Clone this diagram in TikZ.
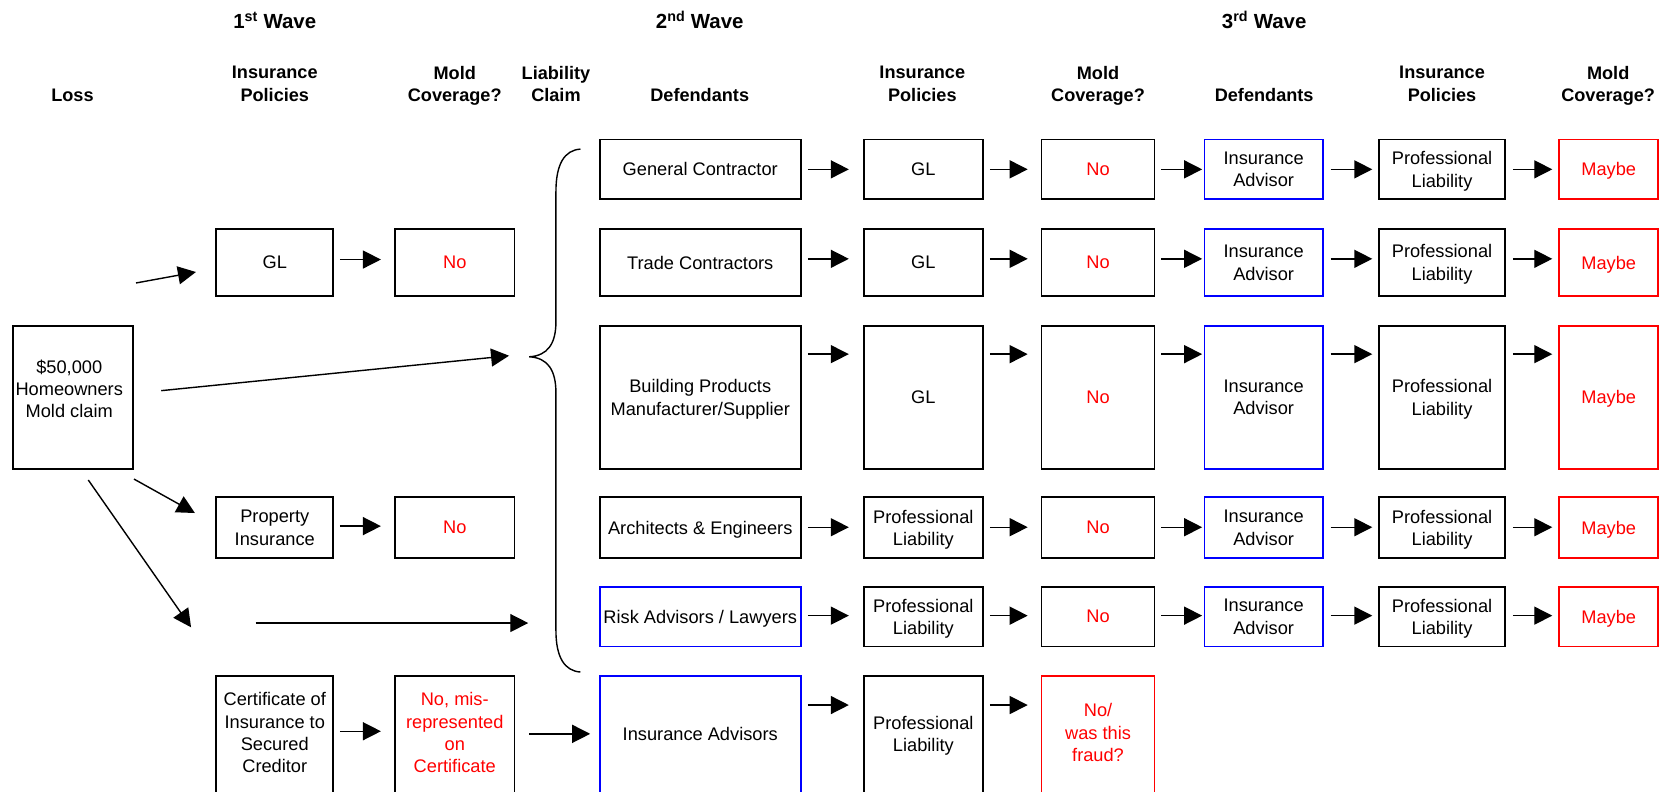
\documentclass[tikz,border=0pt]{standalone}
\usepackage{fontspec}
\setmainfont{Liberation Sans}
\usetikzlibrary{arrows.meta}
\definecolor{myred}{RGB}{255,0,0}
\definecolor{myblue}{RGB}{0,0,255}
\def\pxu{1.065bp}
\begin{document}
\begin{tikzpicture}[x=1.065bp,y=-1.065bp,
  box/.style={draw, line width=1.8bp, align=center, inner sep=0pt, text depth=0pt, font=\fontsize{18.3}{22.5}\selectfont},
  txt/.style={align=center, inner sep=0pt, text depth=0pt, font=\fontsize{18.3}{22.5}\selectfont},
  sz/.style 2 args={minimum width=#1*\pxu, minimum height=#2*\pxu},
  bluebox/.style={draw=myblue},
  redbox/.style={draw=myred},
  redtxt/.style={text=myred},
  arr/.style={line width=1.4bp, -{Triangle[length=18bp,width=18bp]}},
  hdr/.style={font=\bfseries\fontsize{18.2}{22.5}\selectfont, align=center, inner sep=0pt, anchor=north},
  wave/.style={font=\bfseries\fontsize{20.5}{24}\selectfont, inner sep=0pt, anchor=base}]
\useasboundingbox (0,0) rectangle (1569,743);
\clip (0,0) rectangle (1569,743);

% wave titles
\node[wave] (w1) at (258,27) {1\textsuperscript{st} Wave};
\node[wave] (w2) at (657,27) {2\textsuperscript{nd} Wave};
\node[wave] (w3) at (1187,27) {3\textsuperscript{rd} Wave};

% column headers
\node[hdr] (h0) at (68,83) {Loss};
\node[hdr] (h1) at (258,62) {Insurance\\Policies};
\node[hdr] (h2) at (427,62) {Mold\\Coverage?};
\node[hdr] (h3) at (522,62) {Liability\\Claim};
\node[hdr] (h4) at (657,83) {Defendants};
\node[hdr] (h5) at (866,62) {Insurance\\Policies};
\node[hdr] (h6) at (1031,62) {Mold\\Coverage?};
\node[hdr] (h7) at (1187,83) {Defendants};
\node[hdr] (h8) at (1354,62) {Insurance\\Policies};
\node[hdr] (h9) at (1510,62) {Mold\\Coverage?};

% loss
\node[box, sz={113}{134}] (loss) at (68.5,373) {};
\node[txt] (losst) at (65,365) {\$50,000\\Homeowners\\Mold claim};

% first wave
\node[box, sz={110}{63}] (gl1) at (258,246.5) {GL};
\node[box, sz={112}{63}, redtxt] (no1) at (427,246.5) {No};
\node[box, sz={110}{57}] (prop) at (258,495.5) {Property\\Insurance};
\node[box, sz={112}{57}, redtxt] (no2) at (427,495.5) {No};
\node[box, sz={110}{125}] (cert) at (258,697.5) {};
\node[txt] (certt) at (258,688) {Certificate of\\Insurance to\\Secured\\Creditor};
\node[box, sz={112}{125}] (no3) at (427,697.5) {};
\node[txt, redtxt] (no3t) at (427,688) {No, mis-\\represented\\on\\Certificate};

% second wave defendants
\node[box, sz={189}{56}] (d1) at (657.5,159) {General Contractor};
\node[box, sz={189}{63}] (d2) at (657.5,246.5) {Trade Contractors};
\node[box, sz={189}{134}] (d3) at (657.5,373) {Building Products\\Manufacturer/Supplier};
\node[box, sz={189}{57}] (d4) at (657.5,495.5) {Architects \& Engineers};
\node[box, sz={189}{56}, bluebox] (d5) at (657.5,579) {Risk Advisors / Lawyers};
\node[box, sz={189}{125}, bluebox] (d6) at (657.5,697.5) {};
\node[txt] (d6t) at (657.5,689) {Insurance Advisors};

% second wave policies
\node[box, sz={112}{56}] (p1) at (867,159) {GL};
\node[box, sz={112}{63}] (p2) at (867,246.5) {GL};
\node[box, sz={112}{134}] (p3) at (867,373) {GL};
\node[box, sz={112}{57}] (p4) at (867,495.5) {Professional\\Liability};
\node[box, sz={112}{56}] (p5) at (867,579) {Professional\\Liability};
\node[box, sz={112}{125}] (p6) at (867,697.5) {};
\node[txt] (p6t) at (867,689) {Professional\\Liability};

% second wave mold coverage
\node[box, sz={106}{56}, redtxt] (m1) at (1031,159) {No};
\node[box, sz={106}{63}, redtxt] (m2) at (1031,246.5) {No};
\node[box, sz={106}{134}, redtxt] (m3) at (1031,373) {No};
\node[box, sz={106}{57}, redtxt] (m4) at (1031,495.5) {No};
\node[box, sz={106}{56}, redtxt] (m5) at (1031,579) {No};
\node[box, sz={106}{125}, redbox] (m6) at (1031,697.5) {};
\node[txt, redtxt] (m6t) at (1031,688) {No/\\was this\\fraud?};

% third wave
\foreach \r/\y/\h in {1/159/56, 2/246.5/63, 3/373/134, 4/495.5/57, 5/579/56}{
  \node[box, sz={111}{\h}, bluebox] (e\r) at (1186.5,\y) {Insurance\\Advisor};
  \node[box, sz={118}{\h}] (q\r) at (1354,\y) {Professional\\Liability};
  \node[box, sz={93}{\h}, redbox, redtxt] (n\r) at (1510.5,\y) {Maybe};
}

% row arrows
\foreach \r/\s in {1/0, 2/3.7, 3/43.1, 4/0.5, 5/1}{
  \draw[arr] ([xshift=6bp,yshift=\s bp]d\r.east) -- ([xshift=-14bp,yshift=\s bp]p\r.west);
  \draw[arr] ([xshift=6bp,yshift=\s bp]p\r.east) -- ([xshift=-13bp,yshift=\s bp]m\r.west);
  \draw[arr] ([xshift=6bp,yshift=\s bp]m\r.east) -- ([xshift=-1.5bp,yshift=\s bp]e\r.west);
  \draw[arr] ([xshift=7bp,yshift=\s bp]e\r.east) -- ([xshift=-6bp,yshift=\s bp]q\r.west);
  \draw[arr] ([xshift=7bp,yshift=\s bp]q\r.east) -- ([xshift=-6bp,yshift=\s bp]n\r.west);
}
\draw[arr] ([xshift=6bp,yshift=37.8bp]d6.east) -- ([xshift=-14bp,yshift=37.8bp]p6.west);
\draw[arr] ([xshift=6bp,yshift=37.8bp]p6.east) -- ([xshift=-13bp,yshift=37.8bp]m6.west);

% first wave arrows
\draw[arr] ([xshift=5.6bp,yshift=3bp]gl1.east) -- ([xshift=-13.3bp,yshift=3bp]no1.west);
\draw[arr] ([xshift=5.6bp,yshift=1.6bp]prop.east) -- ([xshift=-13.3bp,yshift=1.6bp]no2.west);
\draw[arr] ([xshift=5.6bp,yshift=11.6bp]cert.east) -- ([xshift=-13.3bp,yshift=11.6bp]no3.west);
\draw[arr] ([xshift=14bp,yshift=9bp]no3.east) -- ([xshift=-8.5bp,yshift=9bp]d6.west);

% free arrows from the loss
\coordinate (a1s) at (127.7,265.7);
\coordinate (a1e) at (184,255.4);
\coordinate (a2s) at (151.4,366.8);
\coordinate (a2e) at (478,334);
\coordinate (a3s) at (125.8,449.8);
\coordinate (a3e) at (183,481.7);
\coordinate (a4s) at (82.9,450.7);
\coordinate (a4e) at (179.4,589);
\coordinate (a5s) at (240,585);
\coordinate (a5e) at (496,585);
\draw[arr] (a1s) -- (a1e);
\draw[arr] (a2s) -- (a2e);
\draw[arr] (a3s) -- (a3e);
\draw[arr] (a4s) -- (a4e);
\draw[arr] (a5s) -- (a5e);

% brace
\draw[line width=1.4bp] (545,140) .. controls (530,141) and (522,154) .. (522,180)
  -- (522,302) .. controls (522,323) and (514,334) .. (497,335)
  .. controls (514,336) and (522,347) .. (522,369)
  -- (522,592) .. controls (522,617) and (530,630) .. (545,631);
\end{tikzpicture}
\end{document}
